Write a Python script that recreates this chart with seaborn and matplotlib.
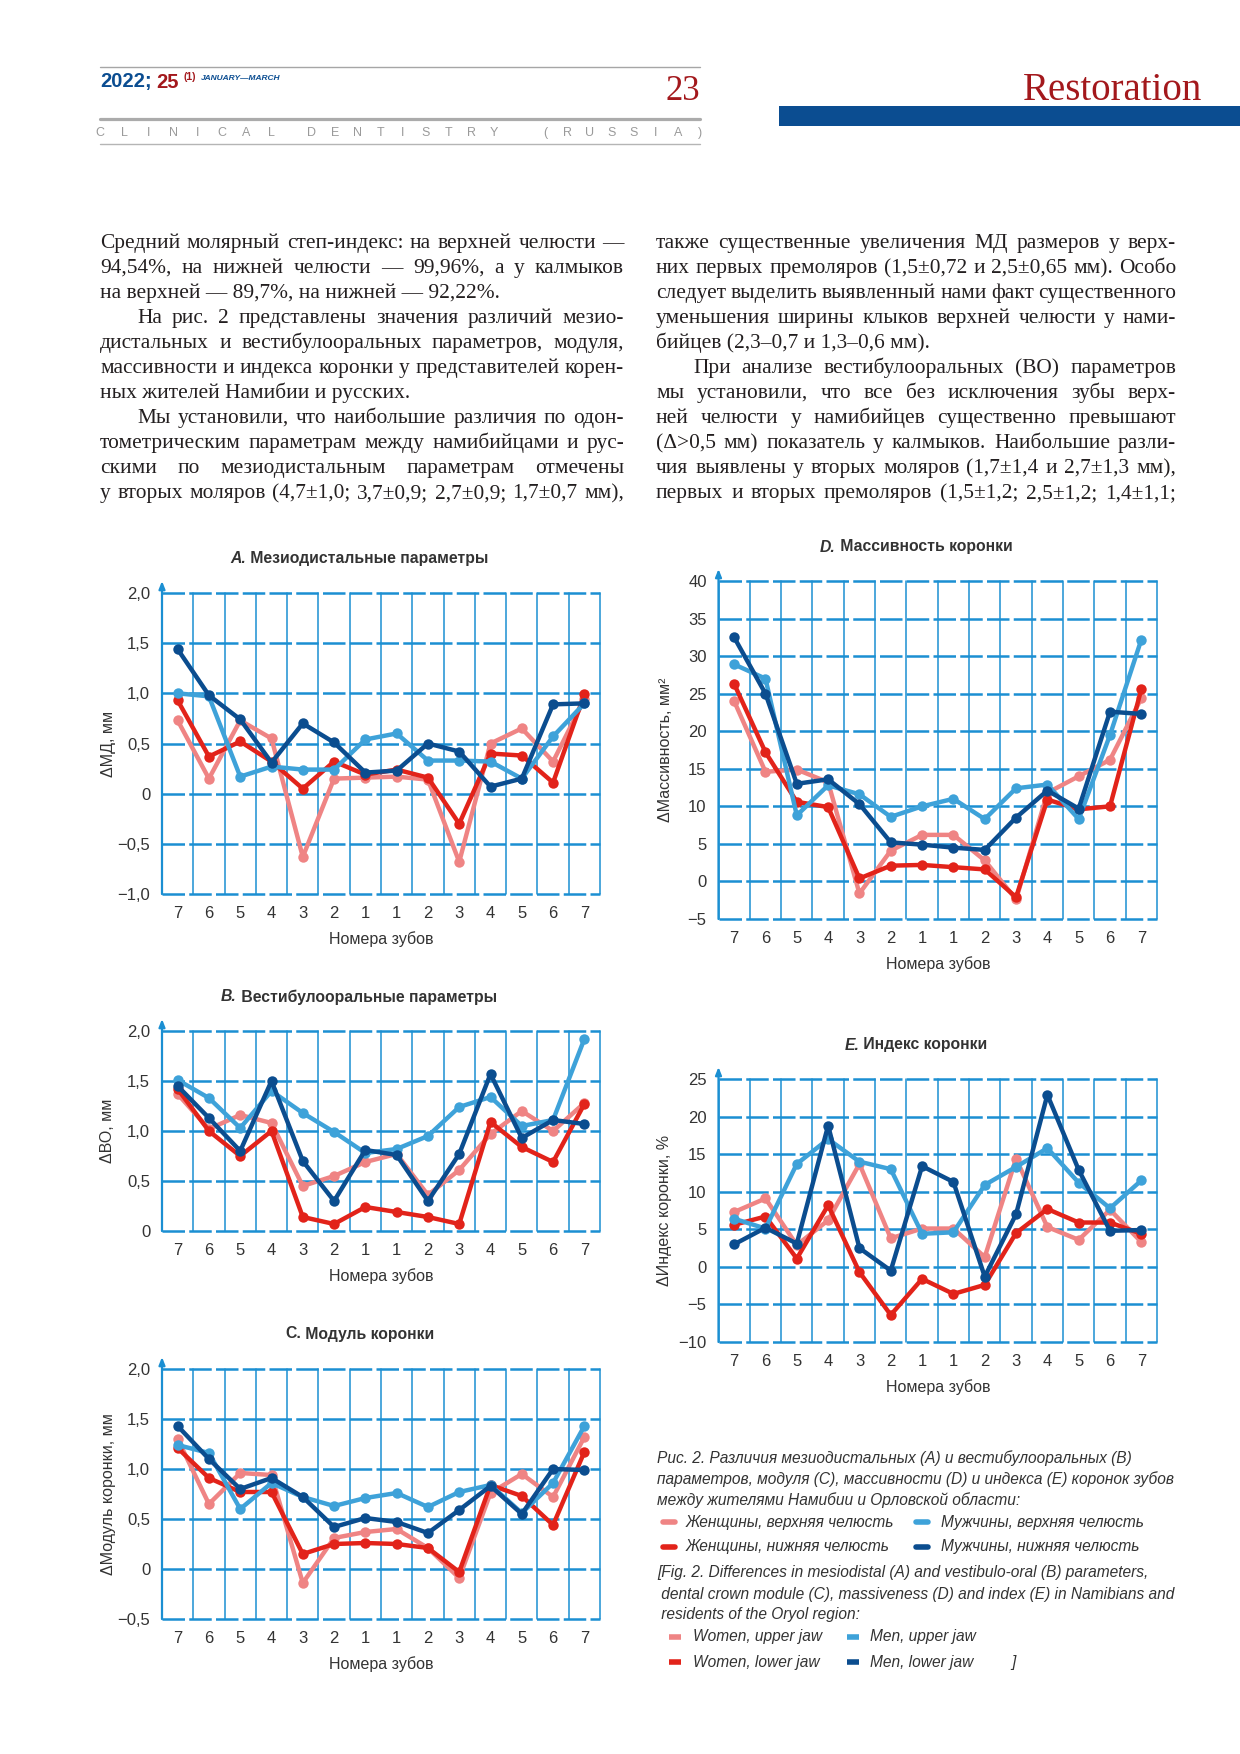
import numpy as np
import pandas as pd
import matplotlib
matplotlib.use('Agg')
import matplotlib.pyplot as plt
import seaborn as sns
from matplotlib import font_manager
from matplotlib.lines import Line2D
from matplotlib.patches import Rectangle

# ---- data ----
teeth = ['7', '6', '5', '4', '3', '2', '1', '1', '2', '3', '4', '5', '6', '7']

groups = ['Женщины, верхняя челюсть', 'Женщины, нижняя челюсть',
          'Мужчины, верхняя челюсть', 'Мужчины, нижняя челюсть']
groups_en = ['Women, upper jaw', 'Women, lower jaw', 'Men, upper jaw', 'Men, lower jaw']
colors = ['#ef8484', '#e2231a', '#3ea2d9', '#0b4d8f']

# A. mesiodistal
md_women_up = [0.73, 0.15, 0.73, 0.55, -0.63, 0.15, 0.16, 0.17, 0.14, -0.68, 0.50, 0.65, 0.32, 0.94]
md_women_low = [0.93, 0.37, 0.52, 0.32, 0.05, 0.32, 0.19, 0.24, 0.16, -0.30, 0.40, 0.38, 0.11, 0.99]
md_men_up = [1.00, 0.97, 0.17, 0.27, 0.24, 0.24, 0.54, 0.60, 0.33, 0.33, 0.32, 0.15, 0.57, 0.90]
md_men_low = [1.44, 0.98, 0.74, 0.31, 0.70, 0.51, 0.21, 0.23, 0.50, 0.42, 0.07, 0.15, 0.89, 0.90]

# B. vestibulo-oral
vo_women_up = [1.37, 1.02, 1.16, 1.08, 0.45, 0.55, 0.69, 0.77, 0.36, 0.61, 0.97, 1.20, 1.00, 1.28]
vo_women_low = [1.42, 1.00, 0.75, 1.00, 0.14, 0.07, 0.24, 0.19, 0.14, 0.07, 1.09, 0.84, 0.69, 1.27]
vo_men_up = [1.51, 1.33, 1.03, 1.40, 1.18, 0.99, 0.78, 0.82, 0.95, 1.24, 1.34, 1.05, 1.11, 1.92]
vo_men_low = [1.45, 1.13, 0.80, 1.50, 0.70, 0.30, 0.81, 0.76, 0.30, 0.77, 1.57, 0.93, 1.11, 1.07]

# C. crown module
mod_women_up = [1.30, 0.65, 0.96, 0.94, -0.14, 0.31, 0.37, 0.40, 0.21, -0.09, 0.76, 0.95, 0.72, 1.32]
mod_women_low = [1.21, 0.91, 0.77, 0.77, 0.15, 0.25, 0.26, 0.25, 0.21, -0.03, 0.84, 0.73, 0.44, 1.17]
mod_men_up = [1.24, 1.16, 0.60, 0.86, 0.72, 0.63, 0.71, 0.76, 0.62, 0.77, 0.84, 0.56, 0.86, 1.43]
mod_men_low = [1.43, 1.10, 0.80, 0.91, 0.72, 0.42, 0.51, 0.47, 0.36, 0.59, 0.83, 0.55, 1.00, 0.99]

# D. crown massiveness
mass_women_up = [24.0, 14.6, 14.9, 13.2, -1.6, 4.1, 6.2, 6.2, 2.8, -2.4, 11.8, 14.0, 16.2, 24.4]
mass_women_low = [26.3, 17.2, 10.6, 9.9, 0.4, 2.1, 2.2, 1.9, 1.6, -2.1, 10.9, 9.6, 10.0, 25.6]
mass_men_up = [28.9, 27.0, 8.8, 12.8, 11.6, 8.6, 10.0, 11.0, 8.3, 12.4, 12.9, 8.3, 19.5, 32.2]
mass_men_low = [32.5, 25.0, 13.0, 13.6, 10.3, 5.2, 4.9, 4.5, 4.2, 8.5, 12.1, 9.7, 22.6, 22.3]

# E. crown index
idx_women_up = [7.3, 9.1, 2.9, 6.2, 13.7, 3.8, 5.1, 5.1, 1.3, 14.4, 5.3, 3.6, 7.6, 3.3]
idx_women_low = [5.6, 6.7, 1.1, 8.2, -0.7, -6.4, -1.6, -3.6, -2.4, 4.5, 7.7, 5.9, 5.9, 4.4]
idx_men_up = [6.4, 5.1, 13.7, 17.0, 14.0, 13.0, 4.4, 4.6, 10.9, 13.3, 15.8, 11.2, 7.8, 11.5]
idx_men_low = [3.0, 5.2, 3.1, 18.8, 2.5, -0.5, 13.4, 11.3, -1.3, 7.0, 22.9, 12.9, 4.8, 4.9]

# body text of the page (text, indent, justified)
left_col = [
    ('Средний молярный степ-индекс: на верхней челюсти —', 0, True),
    ('94,54%, на нижней челюсти — 99,96%, а у калмыков', 0, True),
    ('на верхней — 89,7%, на нижней — 92,22%.', 0, False),
    ('На рис. 2 представлены значения различий мезио-', 37, True),
    ('дистальных и вестибулооральных параметров, модуля,', 0, True),
    ('массивности и индекса коронки у представителей корен-', 0, True),
    ('ных жителей Намибии и русских.', 0, False),
    ('Мы установили, что наибольшие различия по одон-', 37, True),
    ('тометрическим параметрам между намибийцами и рус-', 0, True),
    ('скими по мезиодистальным параметрам отмечены', 0, True),
    ('у вторых моляров (4,7±1,0; 3,7±0,9; 2,7±0,9; 1,7±0,7 мм),', 0, True),
]
right_col = [
    ('также существенные увеличения МД размеров у верх-', 0, True),
    ('них первых премоляров (1,5±0,72 и 2,5±0,65 мм). Особо', 0, True),
    ('следует выделить выявленный нами факт существенного', 0, True),
    ('уменьшения ширины клыков верхней челюсти у нами-', 0, True),
    ('бийцев (2,3–0,7 и 1,3–0,6 мм).', 0, False),
    ('При анализе вестибулооральных (ВО) параметров', 37, True),
    ('мы установили, что все без исключения зубы верх-', 0, True),
    ('ней челюсти у намибийцев существенно превышают', 0, True),
    ('(Δ>0,5 мм) показатель у калмыков. Наибольшие разли-', 0, True),
    ('чия выявлены у вторых моляров (1,7±1,4 и 2,7±1,3 мм),', 0, True),
    ('первых и вторых премоляров (1,5±1,2; 2,5±1,2; 1,4±1,1;', 0, True),
]

caption_ru = ['Рис. 2. Различия мезиодистальных (A) и вестибулооральных (B)',
              'параметров, модуля (C), массивности (D) и индекса (E) коронок зубов',
              'между жителями Намибии и Орловской области:']
caption_en = ['[Fig. 2. Differences in mesiodistal (A) and vestibulo-oral (B) parameters,',
              ' dental crown module (C), massiveness (D) and index (E) in Namibians and',
              ' residents of the Oryol region:']

# ---- style ----
sns.set_style('white')
names = {f.name for f in font_manager.fontManager.ttflist}
sans = 'Liberation Sans' if 'Liberation Sans' in names else 'DejaVu Sans'
serif = 'Liberation Serif' if 'Liberation Serif' in names else 'DejaVu Serif'
plt.rcParams['font.family'] = [sans, 'DejaVu Sans']

grid_blue = '#1b8fd2'
txt_col = '#333333'

W, H = 1240, 1754
fig = plt.figure(figsize=(W / 100, H / 100), dpi=100)
renderer = fig.canvas.get_renderer()


def fx(x):
    return x / W


def fy(y):
    return 1 - y / H


def put(x, y, s, **kw):
    return fig.text(fx(x), fy(y), s, **kw)


def put_runs(x, y, runs, ha='left', va='baseline'):
    # runs: (text, kwargs, gap in px after)
    items = []
    total = 0
    for s, kw, gap in runs:
        t = put(0, y, s, va=va, **kw)
        w = t.get_window_extent(renderer).width
        items.append((t, w, gap))
        total += w + gap
    total -= items[-1][2]
    cx = x - total / 2 if ha == 'center' else x
    for t, w, gap in items:
        t.set_x(fx(cx))
        cx += w + gap


def justify(lines, x0, x1, y0, step, size, **kw):
    for i, (s, indent, full) in enumerate(lines):
        y = y0 + i * step
        xs = x0 + indent
        if not full:
            put(xs, y, s, va='baseline', fontsize=size, **kw)
            continue
        words = s.split()
        fs = size
        while True:
            ts = [put(0, y, w, va='baseline', fontsize=fs, **kw) for w in words]
            ws = [t.get_window_extent(renderer).width for t in ts]
            gap = (x1 - xs - sum(ws)) / (len(words) - 1)
            if gap >= 3 or fs < size - 2:
                break
            for t in ts:
                t.remove()
            fs -= 0.2
        cx = xs
        for t, w in zip(ts, ws):
            t.set_x(fx(cx))
            cx += w + gap


# ---- page header ----
fig.add_artist(Line2D([fx(100), fx(700)], [fy(66.5), fy(66.5)], color='#a6a6a6', lw=1))
fig.add_artist(Line2D([fx(100), fx(700)], [fy(119), fy(119)], color='#ababab', lw=2.3))
fig.add_artist(Line2D([fx(100), fx(700)], [fy(144), fy(144)], color='#b5b5b5', lw=1))
put_runs(100, 87.5, [('2022;', dict(color='#0b4d91', fontsize=14.5, fontweight='bold'), 5),
                     ('25', dict(color='#a3181c', fontsize=14.5, fontweight='bold'), 6)])
put(184, 80, '(1)', color='#a3181c', fontsize=7.5, fontweight='bold', va='baseline')
put(201, 79.5, 'JANUARY—MARCH', color='#0b4d91', fontsize=6, fontweight='bold',
    fontstyle='italic', va='baseline')
put(700, 100.5, '23', color='#a3181c', fontsize=25, family=serif, ha='right', va='baseline')

# spaced running title
for word, x_start, x_end in [('CLINICAL', 100, 271), ('DENTISTRY', 312, 494), ('(RUSSIA)', 545, 700)]:
    step = (x_end - x_start) / (len(word) - 1)
    for k, ch in enumerate(word):
        put(x_start + k * step, 133, ch, color='#9a9a9a', fontsize=9, ha='center', va='center')

fig.add_artist(Rectangle((fx(779), fy(126)), fx(W - 779), 20 / H, color='#0b4d91', lw=0))
put(1202, 100, 'Restoration', color='#a3181c', fontsize=28, family=serif, ha='right', va='baseline')

# ---- body text ----
body_kw = dict(family=serif, color='#231f20')
justify(left_col, 100, 624, 248, 25, 15.4, **body_kw)
justify(right_col, 656, 1176, 248, 25, 15.4, **body_kw)

# ---- panels ----
panels = [
    dict(vals=[md_women_up, md_women_low, md_men_up, md_men_low],
         box=(162, 600, 593, 894), ylim=(-1.0, 2.0), yticks=[-1.0, -0.5, 0, 0.5, 1.0, 1.5, 2.0],
         dec=True, ylabel='ΔМД, мм', letter='A.', italic=True, title=' Мезиодистальные параметры',
         title_xy=(359, 558), ylab_x=108),
    dict(vals=[vo_women_up, vo_women_low, vo_men_up, vo_men_low],
         box=(162, 600, 1031, 1231), ylim=(0, 2.0), yticks=[0, 0.5, 1.0, 1.5, 2.0],
         dec=True, ylabel='ΔВО, мм', letter='B.', italic=True, title=' Вестибулоорaльные параметры'.replace('a', 'а'),
         title_xy=(359, 997), ylab_x=108),
    dict(vals=[mod_women_up, mod_women_low, mod_men_up, mod_men_low],
         box=(162, 600, 1369, 1619), ylim=(-0.5, 2.0), yticks=[-0.5, 0, 0.5, 1.0, 1.5, 2.0],
         dec=True, ylabel='ΔМодуль коронки, мм', letter='C.', italic=False, title=' Модуль коронки',
         title_xy=(360, 1334), ylab_x=108),
    dict(vals=[mass_women_up, mass_women_low, mass_men_up, mass_men_low],
         box=(718.5, 1157, 581, 919), ylim=(-5, 40), yticks=list(range(-5, 41, 5)),
         dec=False, ylabel='ΔМассивность, мм²', letter='D.', italic=True, title=' Массивность коронки',
         title_xy=(916, 547), ylab_x=665),
    dict(vals=[idx_women_up, idx_women_low, idx_men_up, idx_men_low],
         box=(718.5, 1157, 1079, 1342), ylim=(-10, 25), yticks=list(range(-10, 26, 5)),
         dec=False, ylabel='ΔИндекс коронки, %', letter='E.', italic=True, title=' Индекс коронки',
         title_xy=(916, 1045), ylab_x=665),
]


def fmt(v, dec):
    if v == 0:
        s = '0'
    elif dec:
        s = f'{abs(v):.1f}'.replace('.', ',')
    else:
        s = f'{abs(v):d}'
    return ('−' + s) if v < 0 else s


for p in panels:
    x0, x1, y0, y1 = p['box']
    ax = fig.add_axes([fx(x0), fy(y1), (x1 - x0) / W, (y1 - y0) / H])
    rows = []
    for g, series in zip(groups, p['vals']):
        for i, v in enumerate(series):
            rows.append({'pos': i, 'value': v, 'group': g})
    df = pd.DataFrame(rows)

    ax.set_xlim(-0.5, 13.5)
    ax.set_ylim(*p['ylim'])
    ax.set_xticks(np.arange(-0.5, 14, 1), minor=True)
    ax.grid(axis='y', which='major', color=grid_blue, lw=1.8, ls=(0, (9, 1.7)))
    ax.grid(axis='x', which='minor', color=grid_blue, lw=1.1)
    ax.set_axisbelow(True)

    sns.lineplot(data=df, x='pos', y='value', hue='group', hue_order=groups, palette=colors,
                 marker='o', markersize=7.5, markeredgewidth=0, linewidth=3.2, sort=False,
                 estimator=None, legend=False, ax=ax)

    ax.set_xticks(range(14))
    ax.set_xticklabels(teeth)
    ax.set_yticks(p['yticks'])
    ax.set_yticklabels([fmt(v, p['dec']) for v in p['yticks']])
    ax.set(xlabel='', ylabel='')
    ax.tick_params(axis='x', which='major', length=0, pad=8.5, labelsize=12, labelcolor=txt_col)
    ax.tick_params(axis='x', which='minor', length=4.5, width=1.1, color=grid_blue, direction='out')
    ax.tick_params(axis='y', length=5, width=1.6, color=grid_blue, direction='out', pad=3.5,
                   labelsize=12, labelcolor=txt_col)
    for l in ax.get_ygridlines():
        l.set_clip_on(False)
    for t in ax.xaxis.get_minor_ticks():
        t.gridline.set_clip_on(False)
    for s in ['top', 'right', 'bottom', 'left']:
        ax.spines[s].set_visible(False)
    # y axis with arrow
    h_px = y1 - y0
    ax.annotate('', xy=(0, 1 + 12 / h_px), xytext=(0, 0), xycoords='axes fraction',
                arrowprops=dict(arrowstyle='-|>,head_length=0.45,head_width=0.18',
                                color=grid_blue, lw=1.6, shrinkA=0, shrinkB=0),
                annotation_clip=False)

    tx, ty = p['title_xy']
    put_runs(tx, ty, [(p['letter'], dict(fontsize=11.3, fontweight='bold', color=txt_col,
                                         fontstyle='italic' if p['italic'] else 'normal'), 0),
                      (p['title'], dict(fontsize=11.3, fontweight='bold', color=txt_col), 0)],
             ha='center', va='center')
    put((x0 + x1) / 2, y1 + 45, 'Номера зубов', fontsize=11.5, color=txt_col, ha='center', va='center')
    put(p['ylab_x'], (y0 + y1) / 2, p['ylabel'], fontsize=11.5, color=txt_col, rotation=90,
        ha='center', va='center')

# ---- caption with legend ----
cap_kw = dict(fontsize=11.2, fontstyle='italic', color=txt_col, va='center')
for i, s in enumerate(caption_ru):
    put(657, 1458 + i * 21, s, **cap_kw)
for i, s in enumerate(caption_en):
    put(657, 1573 + i * 21, s, **cap_kw)

legend_spots = [(663, 686, 1522), (663, 686, 1547), (916, 941, 1522), (916, 941, 1547)]
legend_spots_en = [(669, 693, 1637), (669, 693, 1662), (847, 870, 1637), (847, 870, 1662)]
for lab, lab_en, c, (mx, tx, yy), (mx2, tx2, yy2) in zip(groups, groups_en, colors,
                                                         legend_spots, legend_spots_en):
    fig.add_artist(Line2D([fx(mx), fx(mx + 12)], [fy(yy), fy(yy)], color=c, lw=4,
                          solid_capstyle='round'))
    put(tx, yy, lab, **cap_kw)
    fig.add_artist(Line2D([fx(mx2), fx(mx2 + 12)], [fy(yy2), fy(yy2)], color=c, lw=4,
                          solid_capstyle='butt'))
    put(tx2, yy2, lab_en, **cap_kw)
put(1011, 1662, ']', **cap_kw)

fig.savefig('out.png', dpi=100)
